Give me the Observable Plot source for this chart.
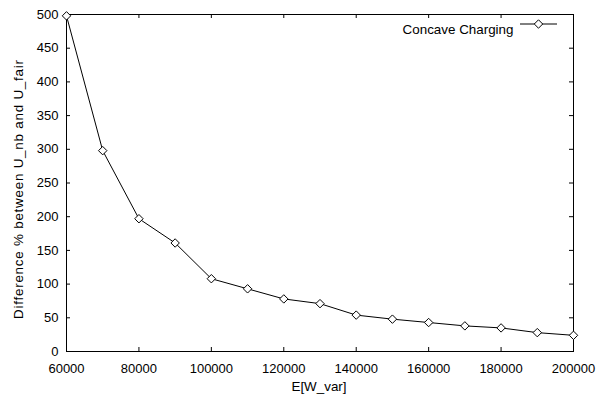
<!DOCTYPE html>
<html>
<head>
<meta charset="utf-8">
<script src="https://cdn.jsdelivr.net/npm/d3@7"></script>
<script src="https://cdn.jsdelivr.net/npm/@observablehq/plot@0.6"></script>
<style>
  html, body { margin: 0; padding: 0; background: #fff; }
</style>
</head>
<body>
<div id="chart"></div>
<script>
const xValues = [60000, 70000, 80000, 90000, 100000, 110000, 120000, 130000, 140000, 150000, 160000, 170000, 180000, 190000, 200000];
const yValues = [498, 298, 197, 161, 108, 93, 78, 71, 54, 48, 43, 38, 35, 28, 24];
const xTicks = [60000, 80000, 100000, 120000, 140000, 160000, 180000, 200000];
const yTicks = [0, 50, 100, 150, 200, 250, 300, 350, 400, 450, 500];
const seriesName = "Concave Charging";
const xLabel = "E[W_var]";
const yLabel = "Difference % between U_nb and U_fair";

const data = xValues.map((x, i) => ({x, y: yValues[i]}));

const W = 599, H = 408;
const mL = 66, mR = 26, mT = 14, mB = 57;
const innerW = W - mL - mR, innerH = H - mT - mB;
const tk = 4;

const plot = Plot.plot({
  width: W,
  height: H,
  marginLeft: mL,
  marginRight: mR,
  marginTop: mT,
  marginBottom: mB,
  style: {fontFamily: "'Liberation Sans', Arial, Helvetica, sans-serif", fontSize: "13px", color: "#000", background: "#fff"},
  x: {domain: [60000, 200000]},
  y: {domain: [0, 500]},
  marks: [
    Plot.frame({stroke: "#000", strokeWidth: 1}),
    Plot.axisX(xTicks, {anchor: "bottom", tickSize: 0, tickPadding: 12, tickFormat: d => String(d), label: null, fill: "#000"}),
    Plot.axisY(yTicks, {anchor: "left", tickSize: 0, tickPadding: 8, tickFormat: d => String(d), label: null, fill: "#000"}),
    Plot.tickX(xTicks, {x: d => d, insetTop: innerH - tk, stroke: "#000"}),
    Plot.tickX(xTicks, {x: d => d, insetBottom: innerH - tk, stroke: "#000"}),
    Plot.tickY(yTicks, {y: d => d, insetRight: innerW - tk, stroke: "#000"}),
    Plot.tickY(yTicks, {y: d => d, insetLeft: innerW - tk, stroke: "#000"}),
    Plot.line(data, {x: "x", y: "y", stroke: "#000", strokeWidth: 1}),
    Plot.dot(data, {x: "x", y: "y", symbol: "diamond2", r: 3.8, stroke: "#000", fill: "#fff", strokeWidth: 1}),
    Plot.text([xLabel], {frameAnchor: "bottom", dy: 39, dx: -1, fill: "#000", fontSize: 13.4}),
    Plot.text([seriesName], {frameAnchor: "top-right", dx: -60, dy: 10, textAnchor: "end", fill: "#000", fontSize: 13.4})
  ]
});

const svg = d3.select(plot);

// Rotated y-axis title
svg.append("text")
  .attr("transform", `translate(18,${mT + innerH / 2 + 7}) rotate(-90)`)
  .attr("text-anchor", "middle")
  .attr("dominant-baseline", "central")
  .attr("font-size", 13.4)
  .attr("fill", "#000")
  .attr("textLength", 259)
  .attr("lengthAdjust", "spacing")
  .text(yLabel);

// Legend sample (line + diamond), positioned relative to the frame
const ly = mT + 10;
const lx1 = W - mR - 53, lx2 = W - mR - 16, lxc = (lx1 + lx2) / 2;
const g = svg.append("g").attr("class", "legend-sample");
g.append("line").attr("x1", lx1).attr("x2", lx2).attr("y1", ly).attr("y2", ly).attr("stroke", "#000").attr("stroke-width", 1);
g.append("path").attr("d", d3.symbol(d3.symbolDiamond2, Math.PI * 3.8 * 3.8)()).attr("transform", `translate(${lxc},${ly})`).attr("fill", "#fff").attr("stroke", "#000");

document.getElementById("chart").appendChild(plot);
</script>
</body>
</html>
